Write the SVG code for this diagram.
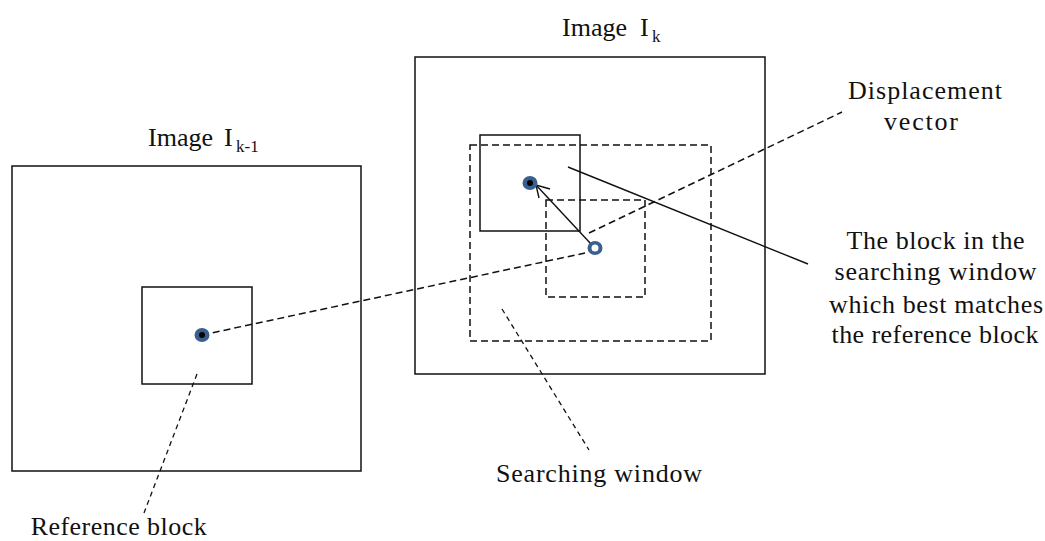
<svg xmlns="http://www.w3.org/2000/svg" width="1045" height="541" viewBox="0 0 1045 541">
<style>
.t{font-family:"Liberation Serif","Times New Roman",serif;font-size:26px;fill:#111}
.sub{font-size:17px}
.frame{fill:none;stroke:#111;stroke-width:1.5}
.dash{fill:none;stroke:#111;stroke-width:1.5;stroke-dasharray:7 4}
.lead{fill:none;stroke:#111;stroke-width:1.3;stroke-dasharray:5 4}
.solid{fill:none;stroke:#111;stroke-width:1.4}
.ring{fill:#3a5f8f}
</style>
<rect width="1045" height="541" fill="#fff"/>

<g id="image-k-1">
  <rect class="frame" x="12" y="166" width="349" height="305"/>
  <text class="t" x="148" y="146">Image<tspan x="224">I</tspan><tspan class="sub" x="236" dy="6">k-1</tspan></text>
</g>
<g id="reference-block">
  <rect class="frame" x="142" y="287" width="110" height="97"/>
</g>
<g id="image-k">
  <rect class="frame" x="415" y="57" width="350" height="317"/>
  <text class="t" x="562" y="36">Image<tspan x="640">I</tspan><tspan class="sub" x="652" dy="6">k</tspan></text>
</g>
<g id="searching-window">
  <rect class="dash" x="470" y="145" width="241" height="196"/>
</g>
<g id="initial-window">
  <rect class="dash" x="546" y="200" width="99" height="97"/>
</g>
<g id="best-match-block">
  <rect class="frame" x="480" y="135" width="100" height="96"/>
</g>

<g id="connectors">
  <line class="dash" x1="202" y1="335" x2="585" y2="253"/>
  <line class="dash" x1="589" y1="233" x2="842" y2="112"/>
  <line class="solid" x1="568" y1="167" x2="808" y2="264"/>
  <line class="lead" x1="197" y1="374" x2="144" y2="513"/>
  <line class="lead" x1="502" y1="309" x2="589" y2="450"/>
  <line class="solid" x1="591" y1="244" x2="536" y2="185"/>
  <polyline class="solid" points="550,189 536,185 539,198"/>
</g>

<g id="dot-reference">
  <ellipse class="ring" cx="202" cy="335" rx="7.5" ry="7"/>
  <circle cx="202" cy="335" r="3" fill="#000"/>
</g>
<g id="dot-match">
  <ellipse class="ring" cx="530" cy="183" rx="7.5" ry="7"/>
  <circle cx="530" cy="183" r="3" fill="#000"/>
</g>
<g id="dot-origin">
  <ellipse class="ring" cx="595" cy="248" rx="7.5" ry="7"/>
  <circle cx="595" cy="248" r="3.5" fill="#fff"/>
</g>

<g id="label-displacement">
  <text class="t" x="925" y="99" text-anchor="middle" textLength="154" lengthAdjust="spacing">Displacement</text>
  <text class="t" x="921" y="130" text-anchor="middle" textLength="74" lengthAdjust="spacing">vector</text>
</g>
<g id="label-best-match">
  <text class="t" x="935.5" y="249" text-anchor="middle" textLength="178" lengthAdjust="spacing">The block in the</text>
  <text class="t" x="935.5" y="280" text-anchor="middle" textLength="202" lengthAdjust="spacing">searching window</text>
  <text class="t" x="936" y="313" text-anchor="middle" textLength="214" lengthAdjust="spacing">which best matches</text>
  <text class="t" x="935" y="343" text-anchor="middle" textLength="207" lengthAdjust="spacing">the reference block</text>
</g>
<g id="label-searching-window">
  <text class="t" x="599" y="482" text-anchor="middle" textLength="206" lengthAdjust="spacing">Searching window</text>
</g>
<g id="label-reference-block">
  <text class="t" x="118.7" y="535" text-anchor="middle" textLength="176" lengthAdjust="spacing">Reference block</text>
</g>
</svg>
